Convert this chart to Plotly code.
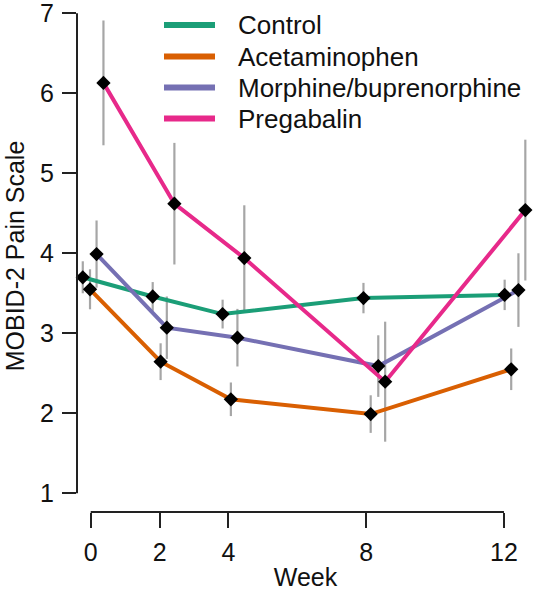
import plotly.graph_objects as go

# ---- data ----
weeks = [0, 2, 4, 8, 12]
series_names = ["Control", "Acetaminophen", "Morphine/buprenorphine", "Pregabalin"]
series_colors = ["#1B9E77", "#D95F02", "#7570B3", "#E7298A"]

# plotted (dodged) week positions
x_control = [-0.23, 1.80, 3.83, 7.92, 12.02]
x_acetaminophen = [-0.02, 2.03, 4.07, 8.13, 12.21]
x_morphine = [0.17, 2.21, 4.26, 8.35, 12.42]
x_pregabalin = [0.37, 2.43, 4.46, 8.55, 12.62]

# mean MOBID-2 pain scale
y_control = [3.70, 3.46, 3.24, 3.44, 3.48]
y_acetaminophen = [3.55, 2.645, 2.175, 1.99, 2.55]
y_morphine = [3.99, 3.07, 2.945, 2.59, 3.54]
y_pregabalin = [6.13, 4.62, 3.94, 2.395, 4.54]

# error bar half-widths
e_control = [0.20, 0.18, 0.18, 0.19, 0.19]
e_acetaminophen = [0.25, 0.23, 0.21, 0.235, 0.26]
e_morphine = [0.42, 0.39, 0.36, 0.385, 0.46]
e_pregabalin = [0.78, 0.76, 0.66, 0.75, 0.88]

y_ticks = [1, 2, 3, 4, 5, 6, 7]

xs = [x_control, x_acetaminophen, x_morphine, x_pregabalin]
ys = [y_control, y_acetaminophen, y_morphine, y_pregabalin]
es = [e_control, e_acetaminophen, e_morphine, e_pregabalin]

FONT = "Liberation Sans, Arial, Helvetica, sans-serif"
fig = go.Figure()

# error bars (drawn first)
for x, y, e in zip(xs, ys, es):
    fig.add_trace(go.Scatter(
        x=x, y=y, mode="markers", marker=dict(size=0.1, opacity=0),
        error_y=dict(type="data", array=e, visible=True, width=0,
                     thickness=2.2, color="#a6a6a6"),
        showlegend=False, hoverinfo="skip", cliponaxis=False))

# lines
for x, y, c, n in zip(xs, ys, series_colors, series_names):
    fig.add_trace(go.Scatter(x=x, y=y, mode="lines", name=n,
                             line=dict(color=c, width=4), showlegend=False,
                             cliponaxis=False))

# markers
for x, y in zip(xs, ys):
    fig.add_trace(go.Scatter(x=x, y=y, mode="markers",
                             marker=dict(symbol="diamond", size=11, color="black"),
                             showlegend=False, hoverinfo="skip", cliponaxis=False))

# geometry of plot area in pixels
L, R, T, B = 77, 0, 0, 80
W, H = 534, 592
pw, ph = W - L - R, H - T - B

def px2paper_x(px):
    return (px - L) / pw

def py2paper_y(py):
    return (H - B - py) / ph

shapes = [
    # R-style y-axis line from 1 to 7
    dict(type="line", xref="paper", yref="y", x0=0, x1=0, y0=y_ticks[0], y1=y_ticks[-1],
         line=dict(color="#222", width=2)),
    # R-style x-axis line from 0 to 12
    dict(type="line", xref="x", yref="paper", x0=weeks[0], x1=weeks[-1], y0=0, y1=0,
         line=dict(color="#222", width=2)),
]
annotations = []
legend_rows = [25, 56.5, 87.5, 118.5]
for n, c, ry in zip(series_names, series_colors, legend_rows):
    shapes.append(dict(type="line", xref="paper", yref="paper",
                       x0=px2paper_x(164), x1=px2paper_x(215),
                       y0=py2paper_y(ry), y1=py2paper_y(ry),
                       line=dict(color=c, width=6)))
    annotations.append(dict(xref="paper", yref="paper", x=px2paper_x(236),
                            y=py2paper_y(ry), text=n, showarrow=False,
                            xanchor="left", yanchor="middle",
                            font=dict(family=FONT, size=26, color="#111")))

fig.update_layout(
    width=W, height=H,
    margin=dict(l=L, r=R, t=T, b=B, pad=0),
    plot_bgcolor="white", paper_bgcolor="white",
    font=dict(family=FONT, size=25, color="#111"),
    shapes=shapes, annotations=annotations,
    xaxis=dict(range=[-0.398, 12.872], tickvals=weeks, ticktext=[str(w) for w in weeks],
               showgrid=False, zeroline=False, showline=False, automargin=False,
               ticks="outside", ticklen=15, tickwidth=2, tickcolor="#222",
               ticklabelstandoff=3, ticklabeloverflow="allow",
               title=dict(text="Week", standoff=3, font=dict(size=25))),
    yaxis=dict(range=[0.766, 7.166], tickvals=y_ticks,
               showgrid=False, zeroline=False, showline=False, automargin=False,
               ticks="outside", ticklen=14, tickwidth=2, tickcolor="#222",
               ticklabelstandoff=3, ticklabeloverflow="allow",
               title=dict(text="MOBID-2 Pain Scale", standoff=8, font=dict(size=25))),
)

fig.write_html("out.html", config={"displayModeBar": False},
               post_script="document.body.style.margin='0';document.body.style.overflow='hidden';")
